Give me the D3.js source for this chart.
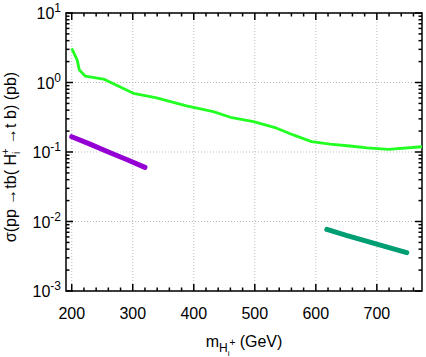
<!DOCTYPE html>
<html>
<head>
<meta charset="utf-8">
<script src="https://d3js.org/d3.v7.min.js"></script>
<style>
  body { margin: 0; background: #fff; }
  text { font-family: "Liberation Sans", Arial, sans-serif; fill: #000; }
</style>
</head>
<body>
<div id="chart"></div>
<script>
  // green curve
  var greenMass = [200, 209, 212.5, 222, 252, 301, 339, 388, 432, 460, 498, 536, 563, 593, 623, 656, 684, 719, 774];
  var greenXsec = [3.1, 2.1, 1.51, 1.24, 1.12, 0.70, 0.60, 0.46, 0.38, 0.316, 0.273, 0.22, 0.176, 0.141, 0.130, 0.122, 0.115, 0.109, 0.119];

  // purple segment
  var purpleMass = [200, 230, 260, 290, 320];
  var purpleXsec = [0.166, 0.130, 0.100, 0.078, 0.060];

  // teal segment
  var tealMass = [618, 650, 690, 720, 749];
  var tealXsec = [0.0077, 0.0063, 0.0050, 0.0042, 0.00356];

  var xTicks = [200, 300, 400, 500, 600, 700];
  var yExps = [1, 0, -1, -2, -3];

  var W = 426, H = 357;
  var margin = { top: 13, right: 4, bottom: 66, left: 66 };
  var width = W - margin.left - margin.right;
  var height = H - margin.top - margin.bottom;

  var svg = d3.select("#chart").append("svg")
    .attr("width", W).attr("height", H);
  var g = svg.append("g").attr("transform", "translate(" + margin.left + "," + margin.top + ")");

  var x = d3.scaleLinear().domain([190.6, 774]).range([0, width]);
  var y = d3.scaleLog().domain([0.001, 10]).range([height, 0]);

  // grid
  g.append("g").selectAll("line").data(xTicks).enter().append("line")
    .attr("x1", function (d) { return x(d); }).attr("x2", function (d) { return x(d); })
    .attr("y1", 0).attr("y2", height)
    .attr("stroke", "#bbb").attr("stroke-dasharray", "1,2");
  g.append("g").selectAll("line").data(yExps).enter().append("line")
    .attr("x1", 0).attr("x2", width)
    .attr("y1", function (d) { return y(Math.pow(10, d)); }).attr("y2", function (d) { return y(Math.pow(10, d)); })
    .attr("stroke", "#bbb").attr("stroke-dasharray", "1,2");

  // ticks (inward, mirrored)
  var xMinor = d3.range(200, 774, 20).filter(function (d) { return d % 100 != 0; });
  var yMinor = [];
  [-3, -2, -1, 0].forEach(function (e) {
    for (var k = 2; k <= 9; k++) yMinor.push(k * Math.pow(10, e));
  });

  var ticks = g.append("g").attr("stroke", "#000").attr("stroke-width", 1.5);
  xTicks.forEach(function (d) {
    ticks.append("line").attr("x1", x(d)).attr("x2", x(d)).attr("y1", height).attr("y2", height - 7);
    ticks.append("line").attr("x1", x(d)).attr("x2", x(d)).attr("y1", 0).attr("y2", 7);
  });
  xMinor.forEach(function (d) {
    ticks.append("line").attr("x1", x(d)).attr("x2", x(d)).attr("y1", height).attr("y2", height - 3.5);
    ticks.append("line").attr("x1", x(d)).attr("x2", x(d)).attr("y1", 0).attr("y2", 3.5);
  });
  yExps.forEach(function (e) {
    var yy = y(Math.pow(10, e));
    ticks.append("line").attr("x1", 0).attr("x2", 7).attr("y1", yy).attr("y2", yy);
    ticks.append("line").attr("x1", width).attr("x2", width - 7).attr("y1", yy).attr("y2", yy);
  });
  yMinor.forEach(function (d) {
    ticks.append("line").attr("x1", 0).attr("x2", 3.5).attr("y1", y(d)).attr("y2", y(d));
    ticks.append("line").attr("x1", width).attr("x2", width - 3.5).attr("y1", y(d)).attr("y2", y(d));
  });

  // frame
  g.append("rect").attr("width", width).attr("height", height)
    .attr("fill", "none").attr("stroke", "#000").attr("stroke-width", 1.5);

  // tick labels
  g.append("g").selectAll("text").data(xTicks).enter().append("text")
    .attr("x", function (d) { return x(d); }).attr("y", height + 28)
    .attr("text-anchor", "middle").style("font-size", "16px")
    .text(function (d) { return d; });

  yExps.forEach(function (e) {
    var t = g.append("text").attr("x", -5).attr("y", y(Math.pow(10, e)) + 6)
      .attr("text-anchor", "end").style("font-size", "16px");
    t.append("tspan").text("10");
    t.append("tspan").attr("dy", -7).style("font-size", "12px").text(e);
  });

  // curves
  var line = d3.line()
    .x(function (d) { return x(d[0]); })
    .y(function (d) { return y(d[1]); });

  function pair(a, b) { return a.map(function (v, i) { return [v, b[i]]; }); }

  g.append("path").datum(pair(greenMass, greenXsec))
    .attr("d", line).attr("fill", "none").attr("stroke", "#22ff22").attr("stroke-width", 2.8)
    .attr("stroke-linejoin", "round");
  g.append("path").datum(pair(purpleMass, purpleXsec))
    .attr("d", line).attr("fill", "none").attr("stroke", "#9400d3").attr("stroke-width", 5)
    .attr("stroke-linecap", "round");
  g.append("path").datum(pair(tealMass, tealXsec))
    .attr("d", line).attr("fill", "none").attr("stroke", "#009e73").attr("stroke-width", 5)
    .attr("stroke-linecap", "round");

  // axis titles
  var xt = svg.append("text").attr("x", 244).attr("y", 347)
    .attr("text-anchor", "middle").style("font-size", "16px");
  xt.append("tspan").text("m");
  xt.append("tspan").attr("dy", 5).style("font-size", "12px").text("H");
  xt.append("tspan").attr("dy", 4).style("font-size", "8px").text("i");
  xt.append("tspan").attr("dy", -10).style("font-size", "10px").text("+");
  xt.append("tspan").attr("dy", 1).text(" (GeV)");

  var yt = svg.append("text")
    .attr("transform", "translate(16,157) rotate(-90)")
    .attr("text-anchor", "middle").style("font-size", "16px");
  yt.append("tspan").text("σ(pp →tb( H");
  yt.append("tspan").attr("dy", 4).style("font-size", "10px").text("i");
  yt.append("tspan").attr("dx", -3).attr("dy", -11).style("font-size", "11px").text("+");
  yt.append("tspan").attr("dy", 7).text(" →t b) (pb)");
</script>
</body>
</html>
